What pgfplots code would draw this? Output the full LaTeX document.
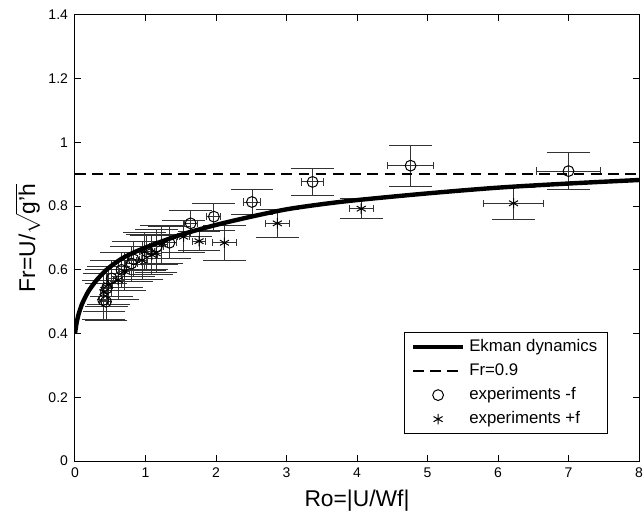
\documentclass[border=0pt]{standalone}
\usepackage{fontspec}
\setmainfont{Liberation Sans}
\usepackage{pgfplots}
\pgfplotsset{compat=1.18}
\usepackage{pgfplotstable}

\pgfplotsset{
  lineleg/.style={legend image code/.code={\draw[##1] (0pt,0pt) -- (25pt,0pt);}},
  markleg/.style={legend image code/.code={\draw[mark repeat=2,mark phase=2,##1] plot coordinates {(0pt,0pt) (12.5pt,0pt) (25pt,0pt)};}},
}

\pgfplotstableread{
x y ex ey
7.00 0.910 0.45 0.058
4.76 0.927 0.33 0.065
3.37 0.876 0.16 0.041
2.51 0.813 0.12 0.039
1.97 0.767 0.10 0.042
1.64 0.746 0.09 0.040
1.34 0.685 0.10 0.050
1.16 0.673 0.10 0.055
1.02 0.657 0.10 0.055
0.83 0.633 0.08 0.055
0.80 0.620 0.08 0.055
0.66 0.600 0.07 0.055
0.52 0.573 0.06 0.055
0.45 0.542 0.06 0.058
0.40 0.505 0.06 0.062
0.44 0.500 0.06 0.058
}\circdata

\pgfplotstableread{
x y ex ey
6.22 0.809 0.43 0.050
4.06 0.792 0.17 0.032
2.87 0.746 0.17 0.043
2.12 0.685 0.17 0.055
1.76 0.690 0.09 0.030
1.54 0.704 0.08 0.050
1.23 0.680 0.08 0.060
1.15 0.652 0.08 0.060
1.09 0.647 0.08 0.060
0.99 0.657 0.08 0.060
0.95 0.630 0.08 0.060
0.70 0.595 0.07 0.060
0.61 0.568 0.06 0.060
0.47 0.552 0.06 0.060
0.41 0.530 0.05 0.060
}\stardata

\begin{document}
\begin{tikzpicture}
\begin{axis}[
  name=ax,
  scale only axis,
  width=282pt, height=223pt,
  xmin=0, xmax=8, ymin=0, ymax=1.4,
  xtick={0,1,2,3,4,5,6,7,8},
  ytick={0,0.2,0.4,0.6,0.8,1,1.2,1.4},
  tick align=inside,
  major tick length=2.8pt,
  tick style={black, line width=0.5pt},
  axis line style={line width=0.5pt},
  ticklabel style={font=\fontsize{7}{8}\selectfont},
  /pgf/number format/assume math mode=true,
  xlabel={Ro=|U/Wf|},
  ylabel={Fr=U/$\sqrt{\mbox{g'h}}$},
  label style={font=\fontsize{11.4}{13}\selectfont},
  xlabel style={at={(axis description cs:0.5,-0.103)}, anchor=base},
  ylabel style={at={(axis description cs:-0.0709,0.5)}, anchor=base},
  legend style={at={(axis description cs:0.9445,0.0605)}, anchor=south east,
    draw=black, line width=0.5pt, font=\fontsize{8.4}{10}\selectfont,
    row sep=0pt, inner xsep=3pt, inner ysep=1.2pt,
    nodes={text height=6.3pt, text depth=1.7pt, inner ysep=2.0pt}},
  legend cell align=left,
]
% error bars
\addplot[forget plot, draw=none, mark=none,
  error bars/.cd, y dir=both, y explicit, error mark=|,
  error bar style={draw=black!80, line width=0.45pt, solid},
  error mark options={draw=black!80, line width=0.45pt, mark size=10.7pt}]
  table[x=x, y=y, y error=ey] {\circdata};
\addplot[forget plot, draw=none, mark=none,
  error bars/.cd, x dir=both, x explicit, error mark=|,
  error bar style={draw=black!80, line width=0.45pt, solid},
  error mark options={draw=black!80, line width=0.45pt, mark size=1.8pt}]
  table[x=x, y=y, x error=ex] {\circdata};
\addplot[forget plot, draw=none, mark=none,
  error bars/.cd, y dir=both, y explicit, error mark=|,
  error bar style={draw=black!80, line width=0.45pt, solid},
  error mark options={draw=black!80, line width=0.45pt, mark size=10.7pt}]
  table[x=x, y=y, y error=ey] {\stardata};
\addplot[forget plot, draw=none, mark=none,
  error bars/.cd, x dir=both, x explicit, error mark=|,
  error bar style={draw=black!80, line width=0.45pt, solid},
  error mark options={draw=black!80, line width=0.45pt, mark size=1.8pt}]
  table[x=x, y=y, x error=ex] {\stardata};

% Ekman dynamics curve
\addplot[black, line width=2.2pt, smooth, lineleg]
  coordinates {
  (0,0.400) (0.02,0.430) (0.05,0.460) (0.1,0.493) (0.15,0.516) (0.2,0.536)
  (0.3,0.566) (0.4,0.590) (0.5,0.610) (0.7,0.640) (1.0,0.670) (1.5,0.710)
  (2.0,0.741) (2.5,0.767) (3.0,0.790) (3.5,0.806) (4.0,0.819) (5.0,0.840)
  (6.0,0.858) (7.0,0.871) (8.0,0.882)};
\addlegendentry{Ekman dynamics}

\addplot[black, line width=0.9pt, dash pattern=on 5.3pt off 3.3pt, lineleg]
  coordinates {(0,0.9) (8,0.9)};
\addlegendentry{Fr=0.9}

\addplot[only marks, mark=o, mark size=2.7pt, black, line width=0.5pt, markleg]
  table[x=x, y=y] {\circdata};
\addlegendentry{experiments -f}

\addplot[only marks, mark=asterisk, mark size=2.6pt, black, line width=0.5pt, markleg]
  table[x=x, y=y] {\stardata};
\addlegendentry{experiments +f}
\end{axis}
\pgfresetboundingbox
\path ([shift={(-37.5pt,-25.5pt)}]ax.south west) rectangle ([shift={(2.5pt,7.5pt)}]ax.north east);
\end{tikzpicture}
\end{document}
